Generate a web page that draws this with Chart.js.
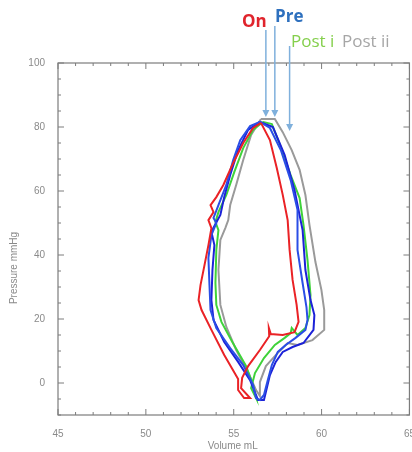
<!DOCTYPE html>
<html>
<head>
<meta charset="utf-8">
<script src="https://cdn.jsdelivr.net/npm/chart.js@4.4.1/dist/chart.umd.min.js"></script>
<style>
body { margin: 0; overflow: hidden; background: #fff; }
canvas { display: block; }
</style>
</head>
<body>
<canvas id="pv_canvas" width="420" height="452"></canvas>
<script>
// pressure-volume loops (volume mL, pressure mmHg)
const on_volume = [56.55, 57.06, 57.45, 57.79, 58.07, 58.18, 58.35, 58.58, 58.69, 58.46, 57.79, 57.11, 57.0, 57.02, 56.49, 55.82, 55.48, 55.42, 55.93, 55.59, 55.25, 55.25, 54.46, 53.73, 53.17, 53.0, 53.11, 53.34, 53.56, 53.73, 53.56, 53.85, 53.68, 54.01, 54.41, 54.97, 55.54, 56.10, 56.55];
const on_pressure = [81.3, 75.9, 67.2, 58.8, 50.9, 41.6, 32.2, 24.4, 19.1, 15.9, 15.0, 15.3, 17.2, 14.6, 10.3, 5.3, 1.6, -1.6, -4.7, -4.7, -2.2, 1.25, 8.75, 16.6, 22.8, 25.9, 30.6, 36.9, 43.1, 48.4, 50.9, 53.4, 55.6, 58.1, 61.9, 68.75, 75.0, 79.7, 81.3];

const pre_a_volume = [56.49, 57.06, 57.68, 58.24, 58.63, 58.63, 58.92, 59.14, 59.20, 59.08, 58.52, 57.96, 57.51, 57.17, 56.94, 56.72, 56.49, 56.27, 56.10, 55.54, 54.80, 54.01, 53.68, 53.62, 53.56, 53.73, 54.01, 53.85, 54.13, 54.58, 54.97, 55.37, 55.93, 56.49];
const pre_a_pressure = [81.6, 79.7, 72.8, 63.4, 54.1, 41.6, 31.25, 23.75, 19.7, 16.6, 14.1, 11.9, 9.7, 5.6, 0.9, -3.75, -5.3, -4.7, -0.6, 5.6, 10.9, 17.2, 22.8, 30.6, 39.1, 46.25, 50.0, 51.6, 55.6, 61.9, 69.7, 75.9, 80.3, 81.6];

const pre_b_volume = [56.49, 57.23, 57.90, 58.46, 58.92, 59.08, 59.37, 59.59, 59.54, 58.97, 58.35, 57.79, 57.39, 57.06, 56.83, 56.72, 56.38, 55.93, 55.25, 54.46, 53.85, 53.73, 53.79, 53.90, 53.73, 53.96, 54.24, 54.46, 54.80, 55.25, 55.82, 56.49];
const pre_b_pressure = [81.6, 80.0, 71.25, 60.3, 47.8, 35.3, 25.9, 21.25, 16.6, 12.5, 11.25, 9.7, 6.6, 2.5, -2.8, -5.3, -5.3, 0.9, 6.6, 12.8, 19.7, 25.9, 35.3, 43.1, 47.2, 49.7, 52.5, 58.1, 65.0, 72.8, 79.1, 81.6];

const post_i_volume = [56.66, 57.17, 57.68, 58.24, 58.75, 58.97, 59.20, 59.37, 59.31, 59.08, 58.63, 58.30, 58.24, 57.90, 57.34, 56.72, 56.21, 55.99, 56.27, 56.10, 55.70, 54.92, 54.30, 54.01, 53.96, 54.01, 54.13, 53.96, 54.13, 54.58, 55.03, 55.54, 56.10, 56.66];
const post_i_pressure = [81.6, 80.9, 73.75, 65.0, 57.8, 49.4, 38.4, 27.5, 21.25, 17.2, 15.0, 17.2, 15.6, 14.1, 11.9, 7.8, 3.1, -1.6, -4.7, -0.6, 5.3, 12.8, 19.1, 24.4, 31.25, 41.6, 47.8, 50.3, 53.4, 58.75, 65.9, 73.4, 79.1, 81.6];

const post_ii_volume = [56.55, 57.34, 57.79, 58.30, 58.75, 59.08, 59.31, 59.65, 59.99, 60.15, 60.15, 59.48, 58.63, 58.07, 57.51, 56.83, 56.49, 56.49, 56.27, 55.82, 55.14, 54.58, 54.24, 54.13, 54.24, 54.52, 54.69, 54.80, 55.14, 55.54, 55.99, 56.55];
const post_ii_pressure = [82.5, 82.5, 78.4, 72.8, 66.6, 58.75, 49.4, 37.8, 29.1, 22.8, 16.6, 13.4, 11.9, 12.5, 9.4, 5.3, 0.3, -4.1, -2.2, 3.4, 10.3, 17.5, 24.4, 35.3, 44.7, 48.4, 50.9, 55.6, 61.9, 69.7, 77.5, 82.5];

// axes
const x_tick_labels = [45, 50, 55, 60, 65];
const y_tick_labels = [0, 20, 40, 60, 80, 100];
const x_range = [45, 65];
const y_range = [-10, 100];

// arrows: volume where each arrow points, pressure at the arrow head
const arrow_volume = [56.83, 57.34, 58.18];
const arrow_tip_pressure = [83.1, 83.1, 78.75];

function to_points(vol, pres) {
    return vol.map((v, i) => ({x: v, y: pres[i]}));
}

function loop_dataset(label, vol, pres, color, order) {
    return {
        label: label,
        data: to_points(vol, pres),
        showLine: true,
        borderColor: color,
        backgroundColor: color,
        borderWidth: 2,
        pointRadius: 0,
        tension: 0,
        order: order
    };
}

const TICK_GRAY = '#8a8a8a';

// frame with inward ticks, annotations, axis titles
const frame_plugin = {
    id: 'frame_plugin',
    afterDraw(chart) {
        const ctx = chart.ctx;
        const a = chart.chartArea;
        const xs = chart.scales.x;
        const ys = chart.scales.y;
        ctx.save();
        ctx.strokeStyle = '#7c7c7c';
        ctx.lineWidth = 1.2;
        ctx.strokeRect(a.left, a.top, a.right - a.left, a.bottom - a.top);

        ctx.lineWidth = 1;
        ctx.beginPath();
        for (let v = x_range[0]; v <= x_range[1]; v++) {
            const len = (v % 5 === 0) ? 6 : 3;
            const px = xs.getPixelForValue(v);
            ctx.moveTo(px, a.bottom); ctx.lineTo(px, a.bottom - len);
            ctx.moveTo(px, a.top); ctx.lineTo(px, a.top + len);
        }
        for (let v = y_range[0]; v <= y_range[1]; v += 5) {
            const len = (v % 20 === 0) ? 6 : 3;
            const py = ys.getPixelForValue(v);
            ctx.moveTo(a.left, py); ctx.lineTo(a.left + len, py);
            ctx.moveTo(a.right, py); ctx.lineTo(a.right - len, py);
        }
        ctx.stroke();

        // arrows
        ctx.strokeStyle = '#7fb0dc';
        ctx.fillStyle = '#7fb0dc';
        ctx.lineWidth = 1.5;
        const arrow_start = [30, 26, 46];
        for (let i = 0; i < arrow_volume.length; i++) {
            const px = xs.getPixelForValue(arrow_volume[i]);
            const tip = ys.getPixelForValue(arrow_tip_pressure[i]);
            ctx.beginPath();
            ctx.moveTo(px, arrow_start[i]);
            ctx.lineTo(px, tip - 5);
            ctx.stroke();
            ctx.beginPath();
            ctx.moveTo(px - 3.5, tip - 7);
            ctx.lineTo(px + 3.5, tip - 7);
            ctx.lineTo(px, tip);
            ctx.closePath();
            ctx.fill();
        }

        // series labels
        ctx.textBaseline = 'alphabetic';
        ctx.textAlign = 'left';
        ctx.font = 'bold 17px "Open Sans", sans-serif';
        ctx.fillStyle = '#e0242c';
        ctx.fillText('On', 242, 27);
        ctx.fillStyle = '#2e70be';
        ctx.fillText('Pre', 275, 22);
        ctx.font = '17px "Open Sans", sans-serif';
        ctx.fillStyle = '#84cf4c';
        ctx.fillText('Post i', 291, 47);
        ctx.fillStyle = '#a6a6a6';
        ctx.fillText('Post ii', 342, 47);

        // axis titles
        ctx.fillStyle = '#8a8a8a';
        ctx.font = '10px "Liberation Sans", Arial, sans-serif';
        ctx.textAlign = 'center';
        ctx.textBaseline = 'middle';
        ctx.fillText('Volume mL', (a.left + a.right) / 2 - 1, 446);
        ctx.translate(14, 268);
        ctx.rotate(-Math.PI / 2);
        ctx.fillText('Pressure mmHg', 0, 0);
        ctx.restore();
    }
};

const pv_chart = new Chart(document.getElementById('pv_canvas'), {
    type: 'scatter',
    data: {
        datasets: [
            loop_dataset('Post ii', post_ii_volume, post_ii_pressure, '#9a9a9a', 5),
            loop_dataset('Post i', post_i_volume, post_i_pressure, '#3fd23a', 4),
            loop_dataset('Pre', pre_b_volume, pre_b_pressure, '#1c22d8', 3),
            loop_dataset('Pre', pre_a_volume, pre_a_pressure, '#2a4ee6', 2),
            loop_dataset('On', on_volume, on_pressure, '#ea2226', 1)
        ]
    },
    options: {
        responsive: false,
        animation: false,
        devicePixelRatio: 1,
        layout: {padding: {left: 0, top: 63, right: 7, bottom: 0}},
        plugins: {
            legend: {display: false},
            tooltip: {enabled: false}
        },
        scales: {
            x: {
                type: 'linear',
                min: x_range[0],
                max: x_range[1],
                grid: {display: false},
                border: {display: false},
                afterBuildTicks: (scale) => { scale.ticks = x_tick_labels.map(v => ({value: v})); },
                afterFit: (scale) => { scale.height = 37; },
                ticks: {
                    color: TICK_GRAY,
                    padding: 5,
                    maxRotation: 0,
                    font: {family: '"Liberation Sans", Arial, sans-serif', size: 10}
                }
            },
            y: {
                type: 'linear',
                min: y_range[0],
                max: y_range[1],
                grid: {display: false},
                border: {display: false},
                afterBuildTicks: (scale) => { scale.ticks = y_tick_labels.map(v => ({value: v})); },
                afterFit: (scale) => { scale.width = 58; },
                ticks: {
                    color: TICK_GRAY,
                    padding: 5,
                    font: {family: '"Liberation Sans", Arial, sans-serif', size: 10}
                }
            }
        }
    },
    plugins: [frame_plugin]
});
</script>
</body>
</html>
